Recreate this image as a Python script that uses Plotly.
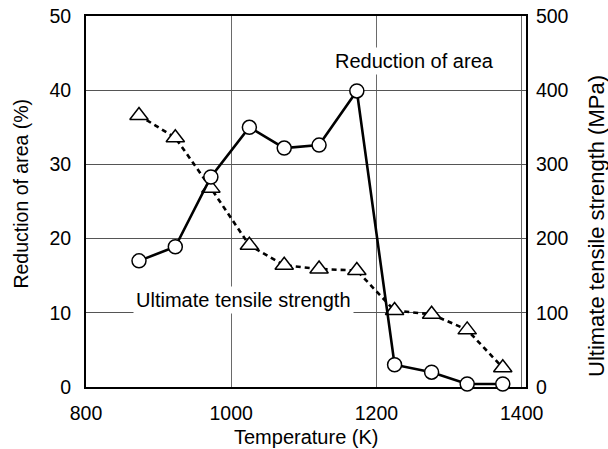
import plotly.graph_objects as go

# Data
temperature_K = [873, 923, 972, 1025, 1073, 1121, 1173, 1225, 1276, 1325, 1374]
reduction_of_area_pct = [17.0, 18.9, 28.3, 35.0, 32.2, 32.6, 39.9, 3.0, 2.0, 0.4, 0.4]
uts_MPa = [366, 336, 268, 191, 164, 159, 157, 103, 98, 77, 26]

x_ticks = [800, 1000, 1200, 1400]
left_ticks = [0, 10, 20, 30, 40, 50]
right_ticks = [0, 100, 200, 300, 400, 500]

FONT = "Liberation Sans, Arial, sans-serif"

fig = go.Figure()

# UTS (dashed, triangles) on primary (right) axis
fig.add_trace(go.Scatter(
    x=temperature_K, y=uts_MPa, mode="lines+markers",
    line=dict(color="black", width=2.6, dash="5px,4px"),
    marker=dict(symbol="triangle-up", size=16, color="white",
                line=dict(color="black", width=1.5)),
    cliponaxis=False, yaxis="y", showlegend=False,
))

# Reduction of area (solid, circles) on left axis (overlay)
fig.add_trace(go.Scatter(
    x=temperature_K, y=reduction_of_area_pct, mode="lines+markers",
    line=dict(color="black", width=2.6),
    marker=dict(symbol="circle", size=14, color="white",
                line=dict(color="black", width=1.5)),
    cliponaxis=False, yaxis="y2", showlegend=False,
))

fig.add_annotation(x=1253, y=44.0, xref="x", yref="y2", text="Reduction of area",
                   showarrow=False, bgcolor="white", borderpad=2,
                   font=dict(family=FONT, size=20, color="black"))
fig.add_annotation(x=1017, y=11.75, xref="x", yref="y2", text="Ultimate tensile strength",
                   showarrow=False, bgcolor="white", borderpad=2,
                   font=dict(family=FONT, size=20, color="black"))

# Axis titles
fig.add_annotation(x=0.5, y=0, xref="paper", yref="paper", yanchor="middle",
                   yshift=-49.5, text="Temperature (K)", showarrow=False,
                   font=dict(family=FONT, size=20, color="black"))
fig.add_annotation(x=0, y=0.52, xref="paper", yref="paper", xanchor="center",
                   yanchor="middle", xshift=-64.5, textangle=-90,
                   text="Reduction of area (%)", showarrow=False,
                   font=dict(family=FONT, size=19.5, color="black"))
fig.add_annotation(x=1, y=0.434, xref="paper", yref="paper", xanchor="center",
                   yanchor="middle", xshift=71, textangle=-90,
                   text="Ultimate tensile strength (MPa)", showarrow=False,
                   font=dict(family=FONT, size=22, color="black"))

fig.update_layout(
    width=608, height=449,
    margin=dict(l=86, r=82, t=16, b=62),
    paper_bgcolor="white", plot_bgcolor="white",
    font=dict(family=FONT, size=19.5, color="black"),
    xaxis=dict(
        range=[800, 1406], tickvals=x_ticks, ticks="", automargin=False,
        showline=True, mirror=True, linecolor="black", linewidth=2,
        showgrid=True, gridcolor="#6a6a6a", gridwidth=1.2,
        zeroline=False, layer="below traces",
        tickfont=dict(size=19.5), ticklabelstandoff=8,
    ),
    yaxis=dict(
        side="right", range=[0, 500], tickvals=right_ticks, ticks="", automargin=False,
        showline=True, mirror=True, linecolor="black", linewidth=2,
        showgrid=True, gridcolor="#555555", gridwidth=1.2,
        zeroline=False, layer="below traces",
        tickfont=dict(size=19.5), ticklabelstandoff=4,
    ),
    yaxis2=dict(
        side="left", overlaying="y", range=[0, 50], tickvals=left_ticks, ticks="",
        automargin=False,
        showline=True, linecolor="black", linewidth=2,
        showgrid=False, zeroline=False, layer="below traces",
        tickfont=dict(size=19.5), ticklabelstandoff=9,
    ),
)

# Remove the default 8px page margin so the figure fills the window exactly
fig.write_html("out.html", config={"displayModeBar": False},
               post_script="document.body.style.margin='0px';")
